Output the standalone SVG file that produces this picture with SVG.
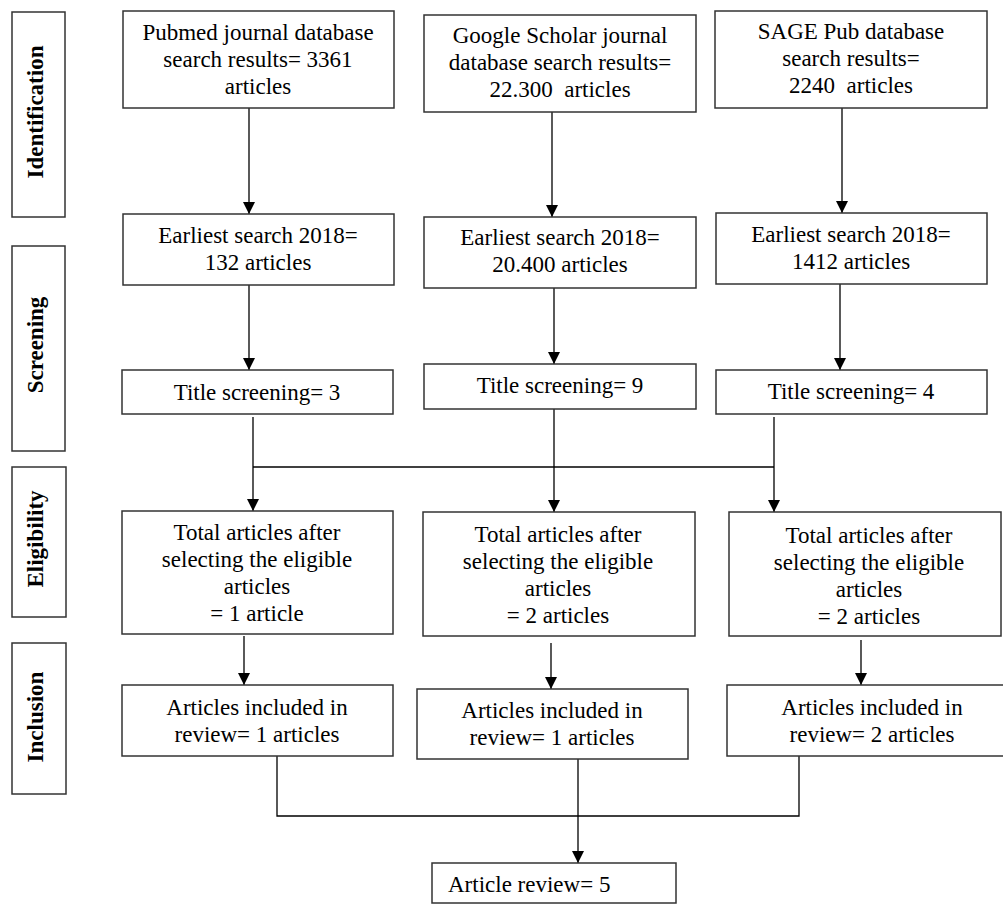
<svg xmlns="http://www.w3.org/2000/svg" width="1003" height="904" viewBox="0 0 1003 904">
<style>
.box{fill:#fff;stroke:#333;stroke-width:1.5}
.t{font-family:"Liberation Serif","Times New Roman",serif;font-size:23px;fill:#000;text-anchor:middle}
.lab{font-family:"Liberation Serif","Times New Roman",serif;font-size:23px;font-weight:bold;fill:#000;text-anchor:middle}
.ln{fill:none;stroke:#000;stroke-width:1.3}
</style>
<defs>
<marker id="ah" viewBox="0 0 12 12" refX="12" refY="6" markerWidth="12" markerHeight="12" orient="auto" markerUnits="userSpaceOnUse">
<path d="M0,0 L12,6 L0,12 z" fill="#000"/>
</marker>
</defs>
<rect width="1003" height="904" fill="#fff"/>

<g id="stage-identification">
<rect class="box" x="12" y="12" width="53" height="205"/>
<text class="lab" transform="translate(43,112) rotate(-90)">Identification</text>
</g>
<g id="stage-screening">
<rect class="box" x="12" y="246" width="53" height="205"/>
<text class="lab" transform="translate(43,345) rotate(-90)">Screening</text>
</g>
<g id="stage-eligibility">
<rect class="box" x="12" y="467" width="54" height="150"/>
<text class="lab" transform="translate(43,539) rotate(-90)">Eligibility</text>
</g>
<g id="stage-inclusion">
<rect class="box" x="12" y="643" width="54" height="151"/>
<text class="lab" transform="translate(43,717) rotate(-90)">Inclusion</text>
</g>

<g id="connectors">
<line class="ln" x1="249" y1="108" x2="249" y2="214" marker-end="url(#ah)"/>
<line class="ln" x1="552" y1="112" x2="552" y2="217" marker-end="url(#ah)"/>
<line class="ln" x1="842" y1="108" x2="842" y2="213" marker-end="url(#ah)"/>
<line class="ln" x1="249" y1="285" x2="249" y2="370" marker-end="url(#ah)"/>
<line class="ln" x1="554" y1="288" x2="554" y2="364" marker-end="url(#ah)"/>
<line class="ln" x1="840" y1="284" x2="840" y2="370" marker-end="url(#ah)"/>
<line class="ln" x1="253" y1="417" x2="253" y2="511" marker-end="url(#ah)"/>
<line class="ln" x1="554" y1="409" x2="554" y2="512" marker-end="url(#ah)"/>
<line class="ln" x1="774" y1="417" x2="774" y2="512" marker-end="url(#ah)"/>
<line class="ln" x1="253" y1="467" x2="774" y2="467"/>
<line class="ln" x1="244" y1="636" x2="244" y2="685" marker-end="url(#ah)"/>
<line class="ln" x1="551" y1="643" x2="551" y2="689" marker-end="url(#ah)"/>
<line class="ln" x1="861" y1="640" x2="861" y2="685" marker-end="url(#ah)"/>
<polyline class="ln" points="277,756 277,816 799,816 799,756"/>
<line class="ln" x1="578" y1="759" x2="578" y2="863" marker-end="url(#ah)"/>
</g>

<g id="pubmed-search">
<rect class="box" x="123" y="11" width="271" height="97"/>
<text class="t" x="258" y="40">Pubmed journal database</text>
<text class="t" x="258" y="67">search results= 3361</text>
<text class="t" x="258" y="94">articles</text>
</g>
<g id="google-search">
<rect class="box" x="424" y="15" width="272" height="97"/>
<text class="t" x="560" y="43">Google Scholar journal</text>
<text class="t" x="560" y="70">database search results=</text>
<text class="t" x="560" y="97" xml:space="preserve">22.300  articles</text>
</g>
<g id="sage-search">
<rect class="box" x="715" y="11" width="272" height="97"/>
<text class="t" x="851" y="39">SAGE Pub database</text>
<text class="t" x="851" y="66">search results=</text>
<text class="t" x="851" y="93" xml:space="preserve">2240  articles</text>
</g>

<g id="pubmed-earliest">
<rect class="box" x="123" y="214" width="271" height="71"/>
<text class="t" x="258" y="243">Earliest search 2018=</text>
<text class="t" x="258" y="270">132 articles</text>
</g>
<g id="google-earliest">
<rect class="box" x="424" y="217" width="272" height="71"/>
<text class="t" x="560" y="245">Earliest search 2018=</text>
<text class="t" x="560" y="272">20.400 articles</text>
</g>
<g id="sage-earliest">
<rect class="box" x="716" y="213" width="271" height="71"/>
<text class="t" x="851" y="242">Earliest search 2018=</text>
<text class="t" x="851" y="269">1412 articles</text>
</g>

<g id="pubmed-title">
<rect class="box" x="122" y="370" width="271" height="44"/>
<text class="t" x="257" y="400">Title screening= 3</text>
</g>
<g id="google-title">
<rect class="box" x="424" y="364" width="272" height="45"/>
<text class="t" x="560" y="393">Title screening= 9</text>
</g>
<g id="sage-title">
<rect class="box" x="716" y="370" width="271" height="44"/>
<text class="t" x="851" y="399">Title screening= 4</text>
</g>

<g id="pubmed-eligible">
<rect class="box" x="122" y="511" width="271" height="123"/>
<text class="t" x="257" y="540">Total articles after</text>
<text class="t" x="257" y="567">selecting the eligible</text>
<text class="t" x="257" y="594">articles</text>
<text class="t" x="257" y="621">= 1 article</text>
</g>
<g id="google-eligible">
<rect class="box" x="423" y="512" width="272" height="124"/>
<text class="t" x="558" y="542">Total articles after</text>
<text class="t" x="558" y="569">selecting the eligible</text>
<text class="t" x="558" y="596">articles</text>
<text class="t" x="558" y="623">= 2 articles</text>
</g>
<g id="sage-eligible">
<rect class="box" x="729" y="512" width="272" height="124"/>
<text class="t" x="869" y="543">Total articles after</text>
<text class="t" x="869" y="570">selecting the eligible</text>
<text class="t" x="869" y="597">articles</text>
<text class="t" x="869" y="624">= 2 articles</text>
</g>

<g id="pubmed-included">
<rect class="box" x="122" y="685" width="271" height="71"/>
<text class="t" x="257" y="715">Articles included in</text>
<text class="t" x="257" y="742">review= 1 articles</text>
</g>
<g id="google-included">
<rect class="box" x="417" y="689" width="271" height="70"/>
<text class="t" x="552" y="718">Articles included in</text>
<text class="t" x="552" y="745">review= 1 articles</text>
</g>
<g id="sage-included">
<rect class="box" x="727" y="685" width="290" height="71"/>
<text class="t" x="872" y="715">Articles included in</text>
<text class="t" x="872" y="742">review= 2 articles</text>
</g>

<g id="article-review">
<rect class="box" x="432" y="863" width="244" height="40"/>
<text class="t" x="448" y="892" style="text-anchor:start">Article review= 5</text>
</g>
</svg>
